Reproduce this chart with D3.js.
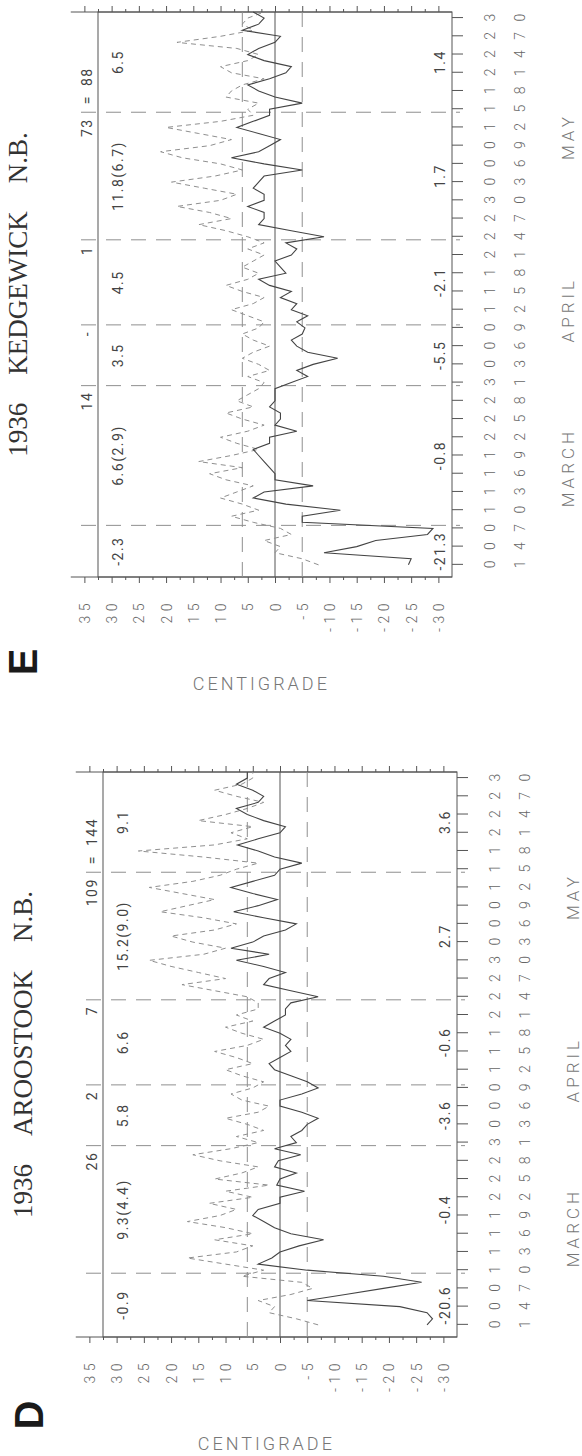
<!DOCTYPE html>
<html>
<head>
<meta charset="utf-8">
<script src="https://cdn.jsdelivr.net/npm/d3@7"></script>
<style>
  html, body { margin: 0; padding: 0; background: #fff; }
  svg { display: block; }
</style>
</head>
<body>
<svg id="chart" width="582" height="1456"></svg>
<script>
// Day index: 0 = 1 March 1936 ... 91 = 31 May 1936
const tempTicks = [35, 30, 25, 20, 15, 10, 5, 0, -5, -10, -15, -20, -25, -30];
const tempMinorTicks = [32.5, 27.5, 22.5, 17.5, 12.5, 7.5, 2.5, -2.5, -7.5, -12.5, -17.5, -22.5, -27.5];
const dayTicks = d3.range(0, 91, 3);
const dayTickLabels = ["01","04","07","10","13","16","19","22","25","28","31",
                       "03","06","09","12","15","18","21","24","27","30",
                       "03","06","09","12","15","18","21","24","27","30"];
const monthNames = ["MARCH", "APRIL", "MAY"];
const monthLabelDay = [16, 42, 70.5];
const refLines = [6, -5];   // dashed reference temperatures

// KEDGEWICK daily minimum (solid) and maximum (dashed), deg C
const kedgewickMin = [
  -24.5, -25, -9, -15, -18.5, -28, -29,
  -5, -5, -12, -2, 4, 2, -7, 0, 0, 1, 2, 3, 4, 1, 1, -4, 0, -1, -1, 1, 0, 0, 0,
  -3, -6, -4, -7, -11.5, -6, -4, -3, -5, -5.5,
  -4, -6, -3, -4, -1, -3, 1, 3, -2, -1, 0, -3, -4, -2,
  -9, -3, 3, 2, 2, 5, 2, 2, 4, 3, 2, -5, 2, 8, 3, 1, -1, 3, 7, 4, 1,
  1, -5, 0, 3, 5, 1, -2, -3, 2, 5, 3, 0, -1, 6, 3, 2, 4];
const kedgewickMax = [
  -8, -5, 0, -1, 2, -3, -1,
  4, 8, 3, 6, 10, 7, 4, 9, 12, 6, 14, 8, 3, 7, 10, 5, 2, 6, 9, 4, 7, 5, 3,
  2, 5, 1, 3, 6, 4, 1, 4, 6, 3,
  2, 5, 8, 4, 2, 6, 9, 5, 3, 6, 4, 2, 5, 2,
  5, 9, 14, 8, 12, 18, 10, 7, 13, 19, 11, 6, 10, 17, 21, 12, 8, 14, 20, 10, 4,
  5, 3, 9, 8, 6, 2, 8, 10, 5, 3, 7, 18, 10, 4, 6, 5, 2];
const kedgewickBounds = [6.5, 29.5, 39.5, 53.5, 74.5];
const kedgewickBoundLabels = ["", "14", "-", "1", "73"];
const kedgewickTail = "= 88";
const kedgewickLeftStats = ["-2.3", "6.6(2.9)", "3.5", "4.5", "11.8(6.7)", "6.5"];
const kedgewickRightStats = ["-21.3", "-0.8", "-5.5", "-2.1", "1.7", "1.4"];

// AROOSTOOK daily minimum (solid) and maximum (dashed), deg C
const aroostookMin = [
  -27, -28, -27, -22, -5, -12, -19, -26, -19,
  -5, 4, 1.5, 0, -3.5, -8, -2, 1, 3, 5, 4, 0, 0, -4.5, 0.6, 0, -3, 1, 0.3, -3.8, 1,
  -3, -2, -4, -5, -7, -4, 0, 0, -4, -7,
  -5, -2, 1, 2, 0, -2, -1, -2, 0, 3, 1, -1, -1, -2,
  -7, -2, 3, 2, -1, 3, 8, 2, 9, 5, 3, -1, -3, 3, 8.5, 4, 0.5, 5, 9, 5, 1,
  0, -4, 1, 4, 7.8, 4, 0, -1, 3, 6, 8, 4, 3, 5, 8, 6, 6];
const aroostookMax = [
  -7, -3, 2, 1, 4, -2, -6, -4, 7,
  3, 10, 17, 8, 5, 12, 5, 10, 17, 11, 8, 13, 5, 10, 2, 12, 7, 4, 11, 16, 9,
  4, 8, 3, 6, 10, 4, 2, 7, 9, 5,
  3, 7, 10, 5, 8, 12, 6, 3, 7, 10, 5, 8, 4, 4,
  6, 12, 18, 10, 15, 20, 24, 14, 10, 16, 20, 12, 8, 14, 22, 17, 12, 18, 24, 16, 11,
  8, 4, 14, 26, 12, 6, 9, 5, 15, 10, 6, 3, 8, 12, 7, 5, 5];
const aroostookBounds = [8.5, 29.5, 39.5, 53.5, 74.5];
const aroostookBoundLabels = ["", "26", "2", "7", "109"];
const aroostookTail = "= 144";
const aroostookLeftStats = ["-0.9", "9.3(4.4)", "5.8", "6.6", "15.2(9.0)", "9.1"];
const aroostookRightStats = ["-20.6", "-0.4", "-3.6", "-0.6", "2.7", "3.6"];

const panels = [
  { title: ["1936", "KEDGEWICK", "N.B."], letter: "E", left: 98, top: 12,
    min: kedgewickMin, max: kedgewickMax, bounds: kedgewickBounds,
    boundLabels: kedgewickBoundLabels, tail: kedgewickTail,
    leftStats: kedgewickLeftStats, rightStats: kedgewickRightStats,
    letterX: 23, letterY: 662, unitY: 690 },
  { title: ["1936", "AROOSTOOK", "N.B."], letter: "D", left: 103, top: 772,
    min: aroostookMin, max: aroostookMax, bounds: aroostookBounds,
    boundLabels: aroostookBoundLabels, tail: aroostookTail,
    leftStats: aroostookLeftStats, rightStats: aroostookRightStats,
    letterX: 29, letterY: 1415, unitY: 1450 }
];

const W = 354, H = 565;                 // frame: temperature depth, date length
const dayDomain = [-2, 91];
const x = d3.scaleLinear().domain(dayDomain).range([0, H]);       // dates
const y = d3.scaleLinear().domain([32.5, -32.5]).range([0, W]);   // temperature

const svg = d3.select("#chart");
const ink = "#555", pale = "#8f8f8f";
const sans = "Roboto, 'DejaVu Sans', sans-serif";

panels.forEach(p => {
  // the panel is laid out with dates running along x, then turned a quarter turn
  const g = svg.append("g")
    .attr("transform", `translate(${p.left},${p.top + H}) rotate(-90)`);

  // frame
  g.append("rect").attr("x", 0).attr("y", 0).attr("width", H).attr("height", W)
    .attr("fill", "none").attr("stroke", ink).attr("stroke-width", 1);

  // temperature scale on both long sides, line reaching past the frame
  [0, H].forEach(u => {
    g.append("line").attr("x1", u).attr("x2", u)
      .attr("y1", y(37.5)).attr("y2", W)
      .attr("stroke", ink).attr("stroke-width", 1);
  });

  const leftAxis = d3.axisLeft(y).tickValues(tempTicks).tickSize(6).tickPadding(16)
    .tickFormat(d => d);
  const gl = g.append("g").call(leftAxis);
  gl.select(".domain").remove();
  gl.selectAll(".tick line").attr("stroke", ink);
  gl.selectAll(".tick text")
    .attr("font-family", sans).attr("font-size", 14).attr("font-weight", 300)
    .attr("letter-spacing", 4.5).attr("fill", "#666").attr("dy", "0.36em");

  const gl2 = g.append("g").call(d3.axisLeft(y).tickValues(tempMinorTicks).tickSize(3).tickFormat(""));
  gl2.select(".domain").remove();
  gl2.selectAll(".tick line").attr("stroke", ink);

  const gr = g.append("g").attr("transform", `translate(${H},0)`)
    .call(d3.axisRight(y).tickValues(tempTicks).tickSize(6).tickFormat(""));
  gr.select(".domain").remove();
  gr.selectAll(".tick line").attr("stroke", ink);
  const gr2 = g.append("g").attr("transform", `translate(${H},0)`)
    .call(d3.axisRight(y).tickValues(tempMinorTicks).tickSize(3).tickFormat(""));
  gr2.select(".domain").remove();
  gr2.selectAll(".tick line").attr("stroke", ink);

  // date scale
  const gb = g.append("g").attr("transform", `translate(0,${W})`)
    .call(d3.axisBottom(x).tickValues(dayTicks).tickSize(11).tickFormat(""));
  gb.select(".domain").remove();
  gb.selectAll(".tick line").attr("stroke", ink);
  gb.selectAll(".tick text").remove();
  gb.selectAll(".tick").each(function(d, i) {
    const t = d3.select(this);
    const lab = dayTickLabels[i];
    [lab[0], lab[1]].forEach((ch, k) => {
      t.append("text").attr("x", 0).attr("y", k === 0 ? 38 : 67.5)
        .attr("dy", "0.36em").attr("text-anchor", "middle")
        .attr("font-family", sans).attr("font-size", 14).attr("font-weight", 300)
        .attr("fill", "#666").text(ch);
    });
  });

  monthNames.forEach((m, i) => {
    g.append("text").attr("x", x(monthLabelDay[i])).attr("y", W + 116)
      .attr("dy", "0.36em").attr("text-anchor", "middle")
      .attr("font-family", sans).attr("font-size", 17).attr("font-weight", 300)
      .attr("letter-spacing", 4).attr("fill", "#777").text(m);
  });

  // reference temperatures
  g.append("line").attr("x1", 0).attr("x2", H).attr("y1", y(0)).attr("y2", y(0))
    .attr("stroke", ink).attr("stroke-width", 1);
  refLines.forEach(t => {
    g.append("line").attr("x1", 0).attr("x2", H).attr("y1", y(t)).attr("y2", y(t))
      .attr("stroke", pale).attr("stroke-width", 1).attr("stroke-dasharray", "15 10");
  });

  // period boundaries
  p.bounds.forEach((b, i) => {
    g.append("line").attr("x1", x(b)).attr("x2", x(b)).attr("y1", -17).attr("y2", W + 8)
      .attr("stroke", pale).attr("stroke-width", 1).attr("stroke-dasharray", "15 10");
    if (p.boundLabels[i]) {
      g.append("text").attr("x", x(b) - 6).attr("y", -11).attr("dy", "0.36em")
        .attr("text-anchor", "end").attr("font-family", sans).attr("font-size", 14)
        .attr("letter-spacing", 1.5).attr("fill", "#444").text(p.boundLabels[i]);
    }
  });
  const lastB = p.bounds[p.bounds.length - 1];
  const tail = g.append("text").attr("x", x(lastB) + 8).attr("y", -11).attr("dy", "0.36em")
    .attr("text-anchor", "start").attr("font-family", sans).attr("font-size", 14)
    .attr("letter-spacing", 1.5).attr("fill", "#444");
  const tailParts = p.tail.split(" ");
  tail.append("tspan").text(tailParts[0]);
  tail.append("tspan").attr("dx", 9).text(tailParts[1]);

  // period statistics
  const edges = [dayDomain[0], ...p.bounds, dayDomain[1]];
  p.leftStats.forEach((s, i) => {
    const mid = (edges[i] + edges[i + 1]) / 2;
    g.append("text").attr("x", x(mid)).attr("y", 20).attr("dy", "0.36em")
      .attr("text-anchor", "middle").attr("font-family", sans).attr("font-size", 14)
      .attr("letter-spacing", 1.5).attr("fill", "#444").text(s);
    g.append("text").attr("x", x(mid)).attr("y", W - 12).attr("dy", "0.36em")
      .attr("text-anchor", "middle").attr("font-family", sans).attr("font-size", 14)
      .attr("letter-spacing", 1.5).attr("fill", "#444").text(p.rightStats[i]);
  });

  // daily series
  const days = d3.range(p.min.length);
  const line = d3.line().defined(d => d[1] != null).x(d => x(d[0])).y(d => y(d[1]));
  g.append("path").datum(days.map(d => [d, p.max[d]]))
    .attr("d", line).attr("fill", "none").attr("stroke", pale)
    .attr("stroke-width", 1).attr("stroke-dasharray", "5 4");
  g.append("path").datum(days.map(d => [d, p.min[d]]))
    .attr("d", line).attr("fill", "none").attr("stroke", "#444")
    .attr("stroke-width", 1.1);

  // station title, words spread apart
  const tt = g.append("text").attr("x", H / 2).attr("y", -71).attr("text-anchor", "middle")
    .attr("font-family", "'Liberation Serif', 'DejaVu Serif', serif").attr("font-size", 27)
    .attr("fill", "#333");
  p.title.forEach((w, i) => {
    tt.append("tspan").attr("dx", i === 0 ? 0 : 28).text(w);
  });

  // unit caption, upright
  svg.append("text").attr("x", p.left + y(2.5)).attr("y", p.unitY)
    .attr("text-anchor", "middle").attr("font-family", sans).attr("font-size", 18)
    .attr("font-weight", 300).attr("letter-spacing", 3).attr("fill", "#777")
    .text("CENTIGRADE");

  // panel letter
  svg.append("text").attr("transform", `translate(${p.letterX},${p.letterY}) rotate(-90)`)
    .attr("text-anchor", "middle").attr("dy", "0.36em")
    .attr("font-family", "'Liberation Sans', Arial, sans-serif").attr("font-weight", "bold")
    .attr("font-size", 40).attr("fill", "#1a1a1a").text(p.letter);
});
</script>
</body>
</html>
